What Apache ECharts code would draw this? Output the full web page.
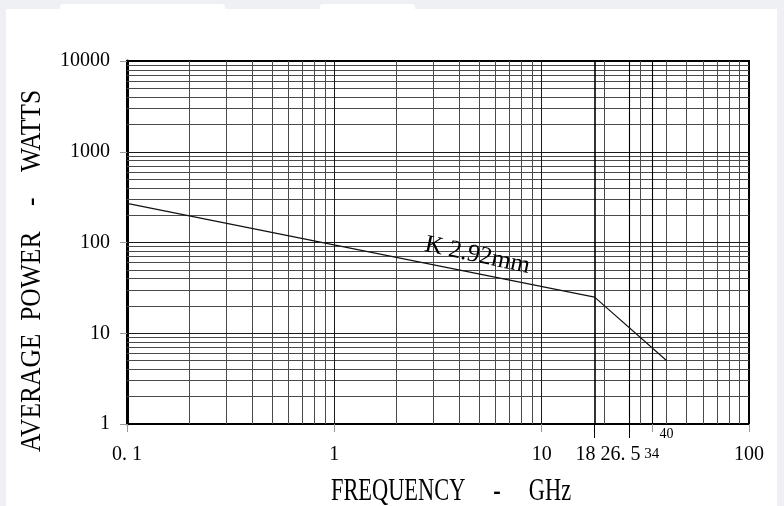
<!DOCTYPE html>
<html><head><meta charset="utf-8">
<script src="https://cdn.jsdelivr.net/npm/echarts@6/dist/echarts.min.js"></script>
<style>html,body{margin:0;padding:0;background:#eef0f4}#c{width:784px;height:506px}</style>
</head><body><div id="c"></div>
<script>
// ---- data ----
const seriesName = 'K 2.92mm';
const freqGHz = [0.1, 18, 40];
const powerW = [270, 25, 5];
const labelAt = [4.9, 72];
// ---- axis ticks / labels ----
const xTickLabels = [0.1, 1, 10, 18, 26.5, 34, 100];
const xSmallTopLabels = [40];
const xLongTicks = [18, 26.5];
const xShortTicks = [0.1, 1, 10, 34, 100];
const yTickLabels = [1, 10, 100, 1000, 10000];
const xSpecialLines = [18, 26.5, 34];
const xDecades = [0.1, 1, 10];
const yDecades = [1, 10, 100, 1000];
const minorMultiples = [2, 3, 4, 5, 6, 7, 8, 9];
const xTitle = 'FREQUENCY     -     GHz';
const yTitle = 'AVERAGE  POWER    -    WATTS';

const FONT = '"Liberation Serif", "DejaVu Serif", serif';
const r = v => +v.toPrecision(6);

const lines = [];
const minorStyle = {color: '#4a4a4a', width: 1, type: 'solid'};
const majorStyle = {color: '#1a1a1a', width: 1, type: 'solid'};
xDecades.forEach(d => minorMultiples.forEach(m => lines.push({xAxis: r(d * m), lineStyle: minorStyle})));
yDecades.forEach(d => minorMultiples.forEach(m => lines.push({yAxis: r(d * m), lineStyle: minorStyle})));
xDecades.slice(1).forEach(d => lines.push({xAxis: d, lineStyle: majorStyle}));
yDecades.slice(1).forEach(d => lines.push({yAxis: d, lineStyle: majorStyle}));
xSpecialLines.forEach(v => lines.push({xAxis: v, lineStyle: {color: '#000', width: v === 18 ? 1.6 : 1.1, type: 'solid'}}));

const chart = echarts.init(document.getElementById('c'), null, {renderer: 'canvas'});
chart.setOption({
  backgroundColor: '#eef0f4',
  animation: false,
  graphic: [
    {type: 'rect', z: -10, shape: {x: 6, y: 9, width: 771, height: 497}, style: {fill: '#fff'}},
    {type: 'rect', z: -10, shape: {x: 60, y: 4, width: 165, height: 8, r: 3}, style: {fill: '#fff'}},
    {type: 'rect', z: -10, shape: {x: 320, y: 4, width: 95, height: 8, r: 3}, style: {fill: '#fff'}},
    {type: 'text', x: 451, y: 492, scaleX: 0.7, style: {text: xTitle, font: '32px ' + FONT, fill: '#000', align: 'center', verticalAlign: 'middle'}},
    {type: 'text', x: 32, y: 271, rotation: Math.PI / 2, scaleX: 0.85, style: {text: yTitle, font: '30px ' + FONT, fill: '#000', align: 'center', verticalAlign: 'middle'}}
  ],
  grid: {left: 127, right: 35, top: 61, bottom: 82, show: true, borderColor: '#000', borderWidth: 2, backgroundColor: 'transparent'},
  xAxis: [
    {
      type: 'log', logBase: 10, min: 0.1, max: 100, position: 'bottom',
      axisLine: {show: true, lineStyle: {color: '#000', width: 2}},
      splitLine: {show: false}, minorSplitLine: {show: false},
      axisTick: {show: true, customValues: xLongTicks, length: 14, lineStyle: {color: '#000', width: 1}},
      axisLabel: {
        customValues: xTickLabels, margin: 21, color: '#000', fontFamily: FONT, fontSize: 20,
        formatter: v => {
          if (v === 34) return '{s|34}';
          if (v === 18 || v === 26.5) return '{o|' + (v === 26.5 ? '26. 5' : '18') + '}';
          if (v === 0.1) return '0. 1';
          return String(v);
        },
        rich: {
          s: {fontSize: 15, fontFamily: FONT, color: '#000', padding: [2, 0, 0, 0]},
          o: {fontSize: 20, fontFamily: FONT, color: '#000', padding: [0, 18, 0, 0]}
        }
      }
    },
    {
      type: 'log', logBase: 10, min: 0.1, max: 100, position: 'bottom',
      axisLine: {show: false}, splitLine: {show: false},
      axisTick: {show: true, customValues: xShortTicks, length: 8, lineStyle: {color: '#999', width: 1}},
      axisLabel: {customValues: xSmallTopLabels, margin: 3, color: '#000', fontFamily: FONT, fontSize: 14}
    }
  ],
  yAxis: {
    type: 'log', logBase: 10, min: 1, max: 10000,
    axisLine: {show: true, lineStyle: {color: '#000', width: 3}},
    splitLine: {show: false},
    axisTick: {show: true, customValues: yTickLabels, length: 7, lineStyle: {color: '#999', width: 1}},
    axisLabel: {customValues: yTickLabels, margin: 17, color: '#000', fontFamily: FONT, fontSize: 20, formatter: v => String(v)}
  },
  series: [{
    name: seriesName, type: 'line', xAxisIndex: 0, yAxisIndex: 0,
    data: freqGHz.map((f, i) => [f, powerW[i]]),
    showSymbol: false, symbol: 'none',
    lineStyle: {color: '#111', width: 1.2},
    z: 5,
    markLine: {silent: true, symbol: ['none', 'none'], label: {show: false}, data: lines, animation: false},
    markPoint: {
      silent: true, symbol: 'circle', symbolSize: 0,
      data: [{coord: labelAt, value: seriesName}],
      label: {show: true, position: 'inside', formatter: seriesName, rotate: -12, fontSize: 25, fontFamily: FONT, color: '#000'}
    }
  }]
});
</script></body></html>
